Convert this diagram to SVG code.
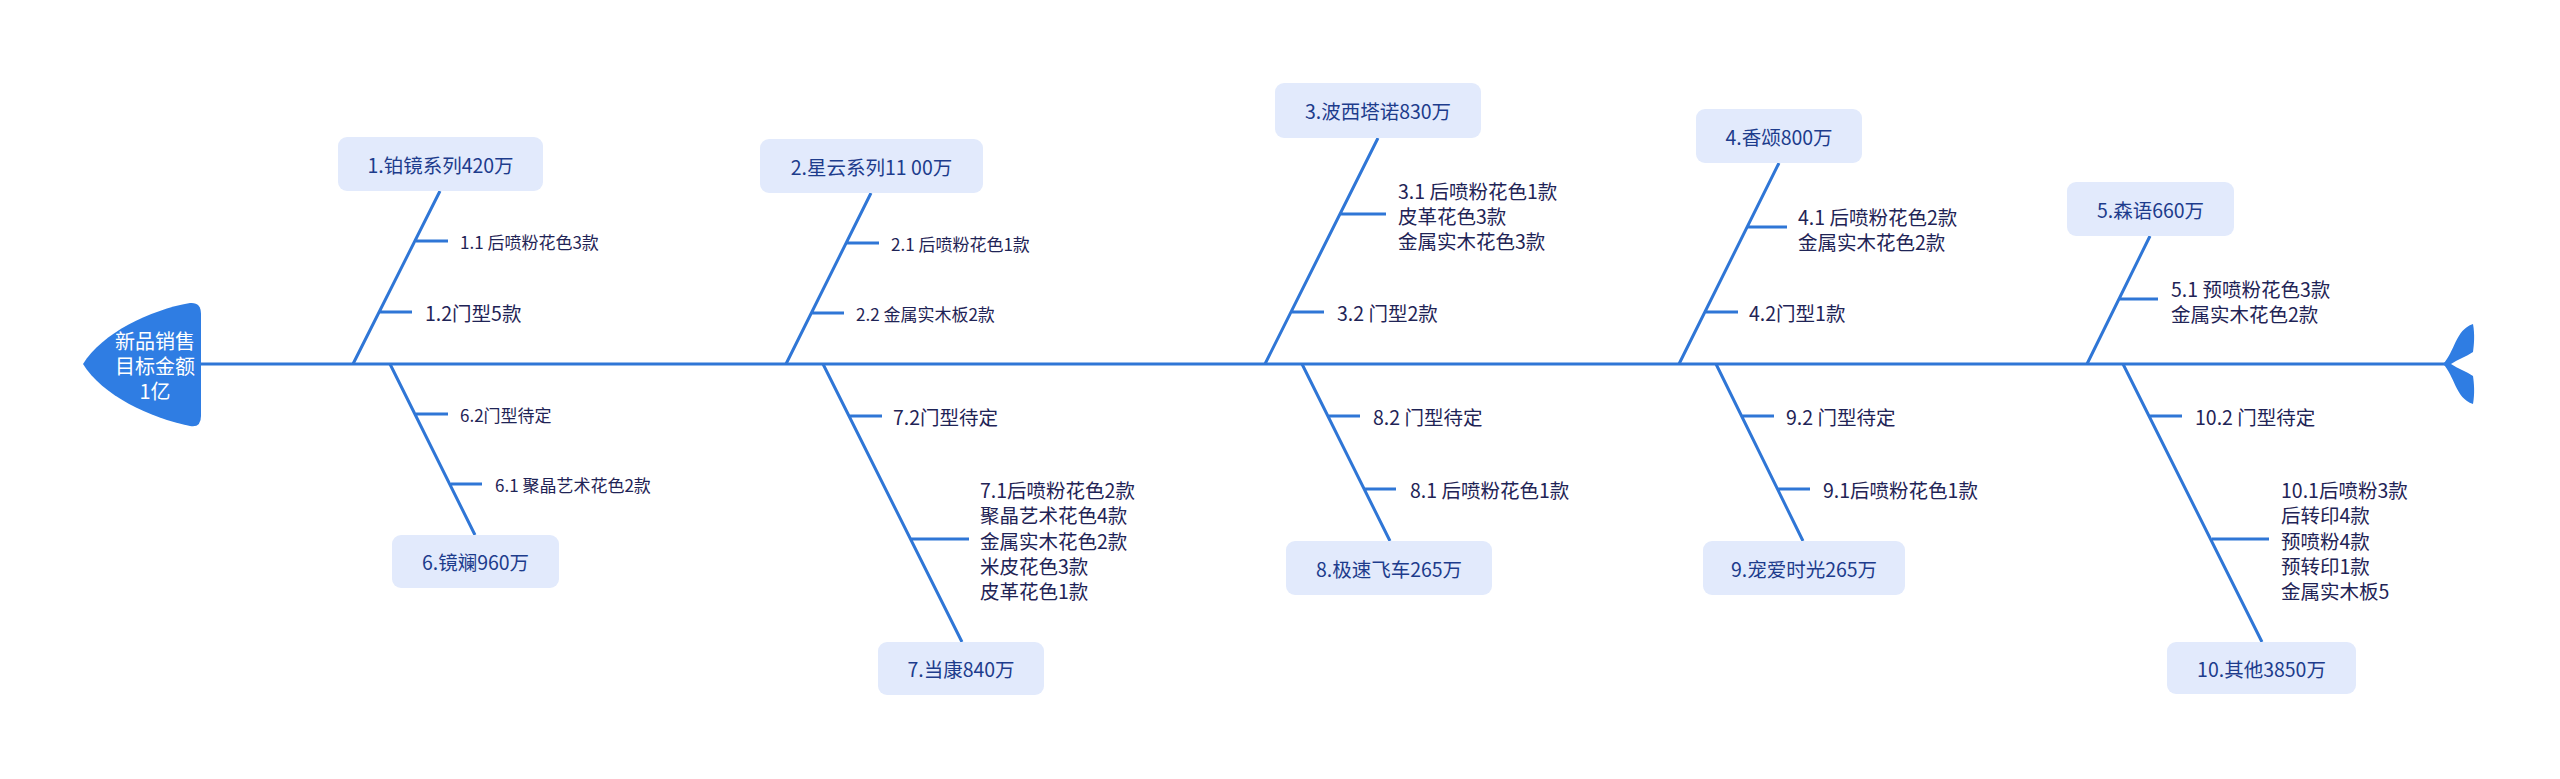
<svg xmlns="http://www.w3.org/2000/svg" width="2560" height="779" viewBox="0 0 2560 779">
<style>
text{font-family:"Noto Sans CJK SC","Liberation Sans",sans-serif;dominant-baseline:central}
.bx{fill:#e2eafc}
.bt{fill:#1d3c8c;font-size:19.5px;text-anchor:middle}
.lt{fill:#1f2456;font-size:19.5px}
.st{fill:#1f2456;font-size:17px}
.ln{stroke:#2f76d6;stroke-width:3;fill:none;stroke-linecap:butt}
.hd{fill:#2f7de3}
.ht{fill:#ffffff;font-size:20px;text-anchor:middle}
</style>
<rect width="2560" height="779" fill="#ffffff"/>
<g id="connectors" class="ln">
<path d="M200,364 H2445"/>
<path d="M440,191 L353,364 M416,241 H448 M380,312 H412"/>
<path d="M390,364 L475,535 M416,414 H448 M451,484 H482"/>
<path d="M871,193 L786,364 M847,243 H879 M812,313 H844"/>
<path d="M823,364 L962,642 M849,416 H882 M911,539 H969"/>
<path d="M1378,138 L1265,364 M1341,214 H1386 M1291,312 H1324"/>
<path d="M1302,364 L1390,541 M1327,416 H1360 M1364,489 H1396"/>
<path d="M1779,163 L1679,364 M1748,227 H1787 M1705,312 H1738"/>
<path d="M1716,364 L1803,541 M1741,416 H1774 M1777,489 H1810"/>
<path d="M2150,236 L2087,364 M2120,299 H2158"/>
<path d="M2123,364 L2262,642 M2150,416 H2182 M2212,539 H2269"/>
</g>
<g id="head">
<path class="hd" d="M201,314 Q201,302 190,303 C150,310 102,333 83,364 C102,395 150,418 190,426 Q201,428 201,416 Z"/>
<text class="ht" x="155" y="340">新品销售</text>
<text class="ht" x="155" y="365">目标金额</text>
<text class="ht" x="155" y="390">1亿</text>
</g>
<g id="tail">
<path class="hd" d="M2443,364 C2455,352 2455,330 2473,324 C2475,335 2474,345 2473,352 C2466,357 2458,359 2451,364 C2458,369 2466,371 2473,376 C2474,383 2475,393 2473,404 C2455,398 2455,376 2443,364 Z"/>
</g>
<g id="n1">
<rect class="bx" x="338" y="137" width="205" height="54" rx="9"/>
<text class="bt" x="440.5" y="164">1.铂镜系列420万</text>
<text class="st" x="460" y="241">1.1 后喷粉花色3款</text>
<text class="lt" x="425" y="312">1.2门型5款</text>
</g>
<g id="n2">
<rect class="bx" x="760" y="139" width="223" height="54" rx="9"/>
<text class="bt" x="871.5" y="166">2.星云系列11 00万</text>
<text class="st" x="891" y="243">2.1 后喷粉花色1款</text>
<text class="st" x="856" y="313">2.2 金属实木板2款</text>
</g>
<g id="n3">
<rect class="bx" x="1275" y="83" width="206" height="55" rx="9"/>
<text class="bt" x="1378" y="110.5">3.波西塔诺830万</text>
<text class="lt"><tspan x="1398" y="190">3.1 后喷粉花色1款</tspan><tspan x="1398" y="215">皮革花色3款</tspan><tspan x="1398" y="240">金属实木花色3款</tspan></text>
<text class="lt" x="1337" y="312">3.2 门型2款</text>
</g>
<g id="n4">
<rect class="bx" x="1696" y="109" width="166" height="54" rx="9"/>
<text class="bt" x="1779" y="136">4.香颂800万</text>
<text class="lt"><tspan x="1798" y="216">4.1 后喷粉花色2款</tspan><tspan x="1798" y="241">金属实木花色2款</tspan></text>
<text class="lt" x="1749" y="312">4.2门型1款</text>
</g>
<g id="n5">
<rect class="bx" x="2067" y="182" width="167" height="54" rx="9"/>
<text class="bt" x="2150.5" y="209">5.森语660万</text>
<text class="lt"><tspan x="2171" y="288">5.1 预喷粉花色3款</tspan><tspan x="2171" y="313">金属实木花色2款</tspan></text>
</g>
<g id="n6">
<rect class="bx" x="392" y="535" width="167" height="53" rx="9"/>
<text class="bt" x="475.5" y="561.5">6.镜斓960万</text>
<text class="st" x="460" y="414">6.2门型待定</text>
<text class="st" x="495" y="484">6.1 聚晶艺术花色2款</text>
</g>
<g id="n7">
<rect class="bx" x="878" y="642" width="166" height="53" rx="9"/>
<text class="bt" x="961" y="668.5">7.当康840万</text>
<text class="lt" x="893" y="416">7.2门型待定</text>
<text class="lt"><tspan x="980" y="489">7.1后喷粉花色2款</tspan><tspan x="980" y="514.3">聚晶艺术花色4款</tspan><tspan x="980" y="539.6">金属实木花色2款</tspan><tspan x="980" y="564.9">米皮花色3款</tspan><tspan x="980" y="590.2">皮革花色1款</tspan></text>
</g>
<g id="n8">
<rect class="bx" x="1286" y="541" width="206" height="54" rx="9"/>
<text class="bt" x="1389" y="568">8.极速飞车265万</text>
<text class="lt" x="1373" y="416">8.2 门型待定</text>
<text class="lt" x="1410" y="489">8.1 后喷粉花色1款</text>
</g>
<g id="n9">
<rect class="bx" x="1703" y="541" width="202" height="54" rx="9"/>
<text class="bt" x="1804" y="568">9.宠爱时光265万</text>
<text class="lt" x="1786" y="416">9.2 门型待定</text>
<text class="lt" x="1823" y="489">9.1后喷粉花色1款</text>
</g>
<g id="n10">
<rect class="bx" x="2167" y="642" width="189" height="52" rx="9"/>
<text class="bt" x="2261.5" y="668">10.其他3850万</text>
<text class="lt" x="2195" y="416">10.2 门型待定</text>
<text class="lt"><tspan x="2281" y="489">10.1后喷粉3款</tspan><tspan x="2281" y="514.3">后转印4款</tspan><tspan x="2281" y="539.6">预喷粉4款</tspan><tspan x="2281" y="564.9">预转印1款</tspan><tspan x="2281" y="590.2">金属实木板5</tspan></text>
</g>
</svg>
